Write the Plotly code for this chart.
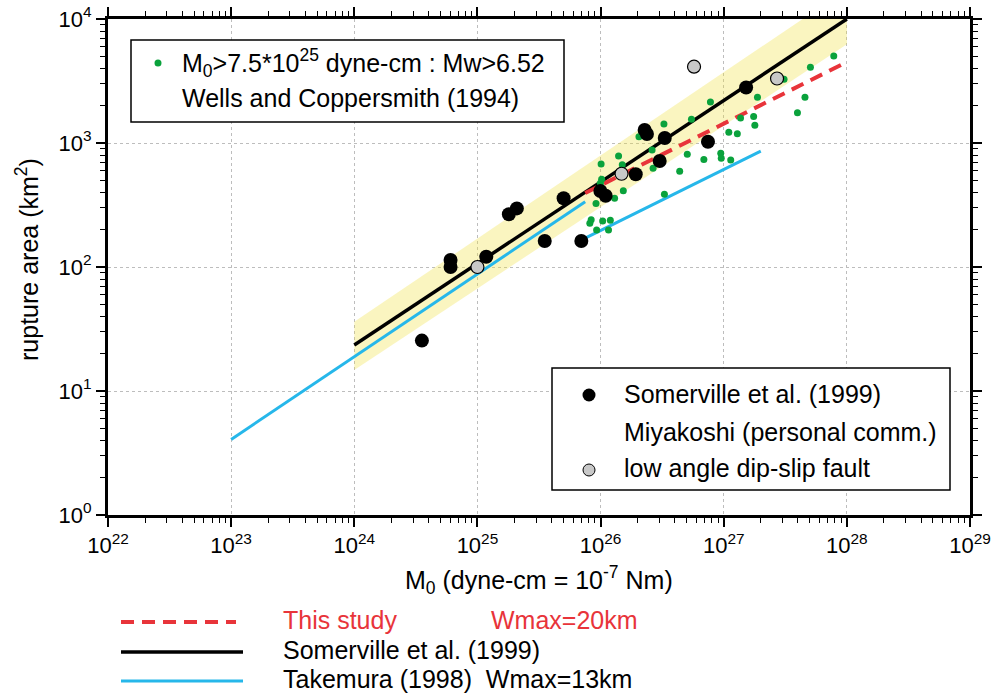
import plotly.graph_objects as go

# ---- data -------------------------------------------------------------
# Somerville et al. (1999) events: seismic moment (dyne-cm) and rupture area (km^2)
som_m0 = [3.54e24, 6.05e24, 6.05e24, 1.18e25, 1.80e25, 2.09e25, 3.52e25, 5.01e25,
          6.98e25, 9.96e25, 1.10e26, 1.93e26, 2.28e26, 2.38e26, 3.32e26, 3.02e26,
          7.45e26, 1.52e27]
som_area = [25.5, 114, 100, 121, 266, 297, 162, 358,
            162, 410, 376, 559, 1273, 1183, 1097, 716,
            1024, 2803]

# low angle dip-slip faults
low_m0 = [1.0e25, 1.48e26, 5.74e26, 2.71e27]
low_area = [100, 565, 4125, 3313]

# Wells and Coppersmith (1994) events with M0 > 7.5e25 dyne-cm
wc_m0 = [7.83e27, 5.06e27, 3.09e27, 1.88e27, 4.57e27, 3.97e27, 7.80e26, 5.47e26,
         3.27e26, 1.37e27, 1.75e27, 1.79e27, 1.10e27, 1.29e27, 2.05e26, 2.62e26,
         1.40e26, 5.06e26, 6.90e26, 9.46e26, 9.55e26, 1.14e27, 1.01e26, 1.50e26,
         2.67e26, 4.39e26, 1.02e26, 9.96e25, 1.53e26, 1.30e26, 9.18e25, 3.30e26,
         8.39e25, 8.18e25, 1.04e26, 1.20e26, 9.29e25, 1.16e26]
wc_area = [5030, 4080, 3265, 2337, 2337, 1756, 2142, 1553,
           1423, 1592, 1637, 1393, 1220, 1186, 1124, 878,
           785, 811, 736, 826, 753, 729, 677, 668,
           626, 592, 510, 473, 412, 359, 325, 386,
           241, 225, 235, 238, 199, 199]

# scaling relations
somerville_m0 = [1e24, 1e28]
somerville_area = [23.5, 10000]
band_upper = [36.2, 17400]
band_lower = [14.8, 6250]

this_study_m0 = [7.5e25, 1e28]
this_study_area = [395, 4500]

takemura_small_m0 = [1e23, 7.5e25]
takemura_small_area = [4.07, 336]
takemura_large_m0 = [7.5e25, 2e27]
takemura_large_area = [171, 861]

# axis ticks
x_tick_vals = [1e22, 1e23, 1e24, 1e25, 1e26, 1e27, 1e28, 1e29]
x_tick_text = ["10<sup>22</sup>", "10<sup>23</sup>", "10<sup>24</sup>", "10<sup>25</sup>",
               "10<sup>26</sup>", "10<sup>27</sup>", "10<sup>28</sup>", "10<sup>29</sup>"]
y_tick_vals = [1, 10, 100, 1000, 10000]
y_tick_text = ["10<sup>0</sup>", "10<sup>1</sup>", "10<sup>2</sup>", "10<sup>3</sup>", "10<sup>4</sup>"]

# ---- styling ----------------------------------------------------------
FONT = "Liberation Sans, Arial, Helvetica, sans-serif"
GREEN = "#0aa23c"
RED = "#e8343a"
BLUE = "#26b7ea"
GREY = "#c8c8c8"

W, H = 997, 693
L, R, T, B = 108, 970, 19, 515


def px(x):
    return (x - L) / (R - L)


def py(y):
    return (B - y) / (B - T)


fig = go.Figure()

# +/- band around the Somerville relation
fig.add_trace(go.Scatter(
    x=somerville_m0 + somerville_m0[::-1],
    y=band_upper + band_lower[::-1],
    fill="toself", fillcolor="rgba(240,225,60,0.32)",
    line=dict(width=0), mode="lines", hoverinfo="skip", showlegend=False))

fig.add_trace(go.Scatter(x=somerville_m0, y=somerville_area, mode="lines",
                         line=dict(color="black", width=3.5), showlegend=False))
fig.add_trace(go.Scatter(x=this_study_m0, y=this_study_area, mode="lines",
                         line=dict(color=RED, width=4, dash="13px,8px"), showlegend=False))
fig.add_trace(go.Scatter(x=takemura_small_m0, y=takemura_small_area, mode="lines",
                         line=dict(color=BLUE, width=3), showlegend=False))
fig.add_trace(go.Scatter(x=takemura_large_m0, y=takemura_large_area, mode="lines",
                         line=dict(color=BLUE, width=3), showlegend=False))

fig.add_trace(go.Scatter(x=wc_m0, y=wc_area, mode="markers",
                         marker=dict(color=GREEN, size=7), showlegend=False))
fig.add_trace(go.Scatter(x=som_m0, y=som_area, mode="markers",
                         marker=dict(color="black", size=14), showlegend=False))
fig.add_trace(go.Scatter(x=low_m0, y=low_area, mode="markers",
                         marker=dict(color=GREY, size=13, line=dict(color="black", width=1.2)),
                         showlegend=False))

axis_common = dict(
    type="log", showline=True, linewidth=3, linecolor="black", mirror="ticks",
    ticks="outside", ticklen=9, tickwidth=1.5, tickcolor="black", automargin=False,
    showgrid=True, gridcolor="#bdbdbd", gridwidth=1, griddash="dot",
    zeroline=False, tickfont=dict(family=FONT, size=22, color="black"),
    minor=dict(ticks="outside", ticklen=5, tickwidth=1.2, tickcolor="black",
               dtick="D1", showgrid=False),
)

fig.update_xaxes(range=[22, 29], tickvals=x_tick_vals, ticktext=x_tick_text, **axis_common)
fig.update_yaxes(range=[0, 4], tickvals=y_tick_vals, ticktext=y_tick_text, **axis_common)

shapes = []
annotations = []

# upper-left key box
shapes.append(dict(type="rect", xref="paper", yref="paper",
                   x0=px(131), x1=px(564), y0=py(122), y1=py(40),
                   line=dict(color="black", width=1.5), fillcolor="white", layer="above"))
shapes.append(dict(type="circle", xref="paper", yref="paper", xsizemode="pixel", ysizemode="pixel",
                   xanchor=px(158), yanchor=py(63), x0=-3.5, x1=3.5, y0=-3.5, y1=3.5,
                   fillcolor=GREEN, line=dict(width=0), layer="above"))
annotations.append(dict(xref="paper", yref="paper", x=px(180), y=py(63), xanchor="left", yanchor="middle",
                        text="M<sub>0</sub>>7.5*10<sup>25</sup> dyne-cm : Mw>6.52", showarrow=False,
                        font=dict(family=FONT, size=25, color="black")))
annotations.append(dict(xref="paper", yref="paper", x=px(180), y=py(98), xanchor="left", yanchor="middle",
                        text="Wells and Coppersmith (1994)", showarrow=False,
                        font=dict(family=FONT, size=25, color="black")))

# lower-right key box
shapes.append(dict(type="rect", xref="paper", yref="paper",
                   x0=px(552), x1=px(950), y0=py(490), y1=py(368),
                   line=dict(color="black", width=1.5), fillcolor="white", layer="above"))
shapes.append(dict(type="circle", xref="paper", yref="paper", xsizemode="pixel", ysizemode="pixel",
                   xanchor=px(589), yanchor=py(395), x0=-6.5, x1=6.5, y0=-6.5, y1=6.5,
                   fillcolor="black", line=dict(width=0), layer="above"))
shapes.append(dict(type="circle", xref="paper", yref="paper", xsizemode="pixel", ysizemode="pixel",
                   xanchor=px(589), yanchor=py(470), x0=-6, x1=6, y0=-6, y1=6,
                   fillcolor=GREY, line=dict(color="black", width=1), layer="above"))
for yy, txt in [(394, "Somerville et al. (1999)"),
                (432, "Miyakoshi (personal comm.)"),
                (468, "low angle dip-slip fault")]:
    annotations.append(dict(xref="paper", yref="paper", x=px(622), y=py(yy), xanchor="left",
                            yanchor="middle", text=txt, showarrow=False,
                            font=dict(family=FONT, size=25, color="black")))

# axis titles
annotations.append(dict(xref="paper", yref="paper", x=px(539), y=py(580), xanchor="center",
                        yanchor="middle", text="M<sub>0</sub> (dyne-cm = 10<sup>-7</sup> Nm)",
                        showarrow=False, font=dict(family=FONT, size=25, color="black")))
annotations.append(dict(xref="paper", yref="paper", x=px(27), y=py(260), xanchor="center",
                        yanchor="middle", text="rupture area (km<sup>2</sup>)", textangle=-90,
                        showarrow=False, font=dict(family=FONT, size=25, color="black")))

# line key below the plot
shapes.append(dict(type="line", xref="paper", yref="paper", x0=px(121), x1=px(236),
                   y0=py(622), y1=py(622), line=dict(color=RED, width=4, dash="13px,8px")))
shapes.append(dict(type="line", xref="paper", yref="paper", x0=px(121), x1=px(243),
                   y0=py(652), y1=py(652), line=dict(color="black", width=3.5)))
shapes.append(dict(type="line", xref="paper", yref="paper", x0=px(121), x1=px(243),
                   y0=py(681), y1=py(681), line=dict(color=BLUE, width=3)))
annotations.append(dict(xref="paper", yref="paper", x=px(281), y=py(620), xanchor="left", yanchor="middle",
                        text="This study", showarrow=False, font=dict(family=FONT, size=25, color=RED)))
annotations.append(dict(xref="paper", yref="paper", x=px(489), y=py(620), xanchor="left", yanchor="middle",
                        text="Wmax=20km", showarrow=False, font=dict(family=FONT, size=25, color=RED)))
annotations.append(dict(xref="paper", yref="paper", x=px(281), y=py(650), xanchor="left", yanchor="middle",
                        text="Somerville et al. (1999)", showarrow=False,
                        font=dict(family=FONT, size=25, color="black")))
annotations.append(dict(xref="paper", yref="paper", x=px(281), y=py(679), xanchor="left", yanchor="middle",
                        text="Takemura (1998)  Wmax=13km", showarrow=False,
                        font=dict(family=FONT, size=25, color="black")))

fig.update_layout(
    width=W, height=H, autosize=False,
    margin=dict(l=L, r=W - R, t=T, b=H - B, pad=0),
    paper_bgcolor="white", plot_bgcolor="white",
    showlegend=False, shapes=shapes, annotations=annotations,
    font=dict(family=FONT, color="black"),
)

fig.write_html("out.html")
